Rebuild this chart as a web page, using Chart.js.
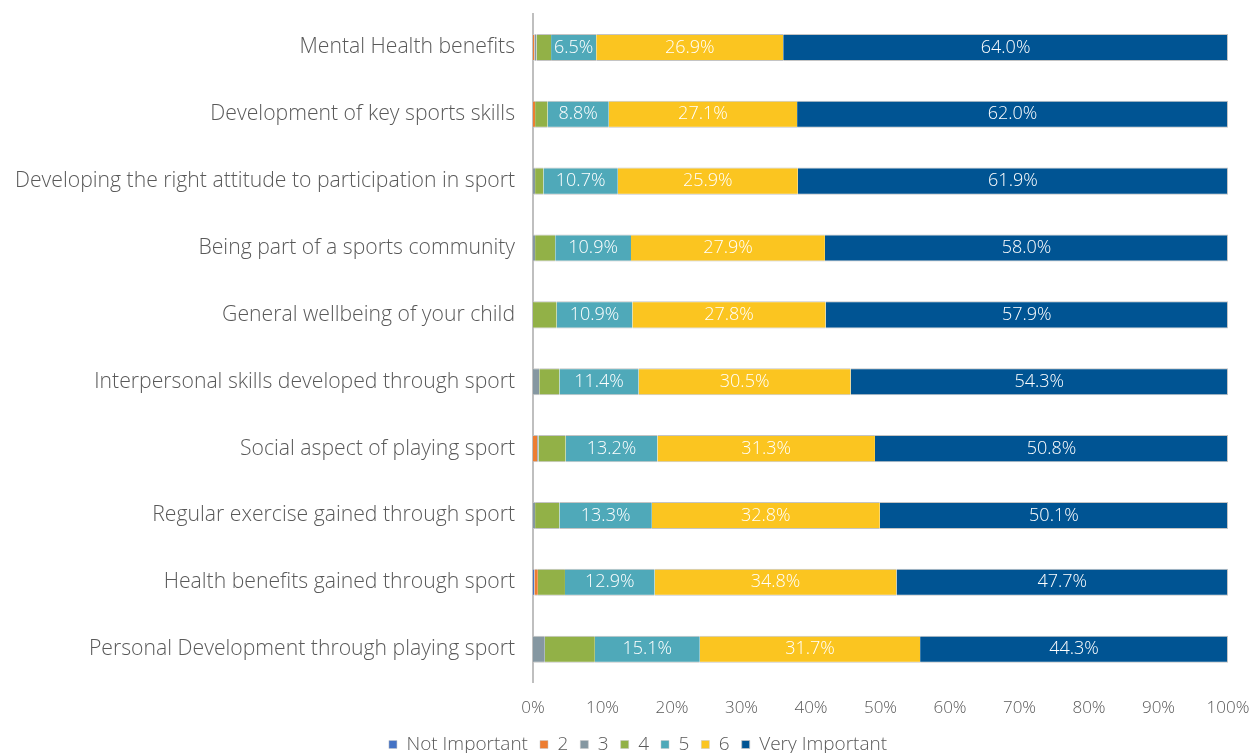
<!DOCTYPE html>
<html>
<head>
<meta charset="utf-8">
<title>Importance of sport outcomes</title>
<script src="https://cdn.jsdelivr.net/npm/chart.js@4.4.1/dist/chart.umd.min.js"></script>
<style>
  html, body { margin: 0; padding: 0; background: #fff; }
  #wrap { width: 1252px; height: 753px; }
</style>
</head>
<body>
<div id="wrap"><canvas id="chart"></canvas></div>
<script>
// Categories, top to bottom
const categories = [
    'Mental Health benefits',
    'Development of key sports skills',
    'Developing the right attitude to participation in sport',
    'Being part of a sports community',
    'General wellbeing of your child',
    'Interpersonal skills developed through sport',
    'Social aspect of playing sport',
    'Regular exercise gained through sport',
    'Health benefits gained through sport',
    'Personal Development through playing sport'
];

// Share of answers (%) per rating
const notImportant = [0,   0,   0,   0,   0,   0,   0,   0,   0.2, 0];
const rating2      = [0.2, 0.3, 0,   0,   0,   0,   0.6, 0,   0.5, 0];
const rating3      = [0.3, 0,   0.3, 0.3, 0,   0.9, 0.2, 0.3, 0,   1.7];
const rating4      = [2.1, 1.8, 1.2, 2.9, 3.4, 2.9, 3.9, 3.5, 3.9, 7.2];
const rating5      = [6.5, 8.8, 10.7, 10.9, 10.9, 11.4, 13.2, 13.3, 12.9, 15.1];
const rating6      = [26.9, 27.1, 25.9, 27.9, 27.8, 30.5, 31.3, 32.8, 34.8, 31.7];
const veryImportant = [64.0, 62.0, 61.9, 58.0, 57.9, 54.3, 50.8, 50.1, 47.7, 44.3];

const seriesNames = ['Not Important', '2', '3', '4', '5', '6', 'Very Important'];
const seriesColors = ['#4472C4', '#ED7D31', '#8597A1', '#92B147', '#4FA9B9', '#FBC520', '#005493'];
const seriesValues = [notImportant, rating2, rating3, rating4, rating5, rating6, veryImportant];
// only these series carry value labels in the bars
const labelledSeries = [4, 5, 6];

const textColor = '#595959';
const fontFamily = "'Open Sans', sans-serif";

// Draw the percentage labels in the middle of each segment
const segmentLabels = {
    id: 'segmentLabels',
    afterDatasetsDraw(chart) {
        const ctx = chart.ctx;
        ctx.save();
        ctx.fillStyle = '#ffffff';
        ctx.font = '300 18px ' + fontFamily;
        ctx.textAlign = 'center';
        ctx.textBaseline = 'middle';
        labelledSeries.forEach(di => {
            const meta = chart.getDatasetMeta(di);
            meta.data.forEach((bar, i) => {
                const v = chart.data.datasets[di].data[i];
                const x = (bar.x + bar.base) / 2;
                ctx.fillText(v.toFixed(1) + '%', x, bar.y);
            });
        });
        ctx.restore();
    }
};

// Nudge the legend a little to the right, under the bars
const legendShift = {
    id: 'legendShift',
    afterLayout(chart) {
        if (chart.legend) {
            chart.legend.left += 8;
            chart.legend.right += 8;
        }
    }
};

const datasets = seriesNames.map((name, i) => ({
    label: name,
    data: seriesValues[i],
    backgroundColor: seriesColors[i],
    borderColor: '#c4c4c4',
    borderWidth: i === seriesNames.length - 1 ? { top: 1, bottom: 1, right: 1 } : { top: 1, bottom: 1 },
    borderSkipped: false,
    barPercentage: 0.81,
    categoryPercentage: 0.5
}));

new Chart(document.getElementById('chart'), {
    type: 'bar',
    data: { labels: categories, datasets: datasets },
    options: {
        indexAxis: 'y',
        responsive: true,
        maintainAspectRatio: false,
        animation: false,
        layout: { padding: { top: 14, right: 0, left: 8, bottom: -11 } },
        scales: {
            x: {
                stacked: true,
                min: 0,
                max: 100,
                grid: { display: false },
                border: { display: false },
                ticks: {
                    stepSize: 10,
                    color: textColor,
                    font: { size: 17, family: fontFamily, weight: 300 },
                    padding: 7,
                    callback: v => v + '%'
                },
                afterFit(scale) {
                    scale.height -= 2;
                    scale.paddingRight = 24;
                    scale.paddingLeft = 0;
                }
            },
            y: {
                stacked: true,
                grid: { display: false },
                border: { display: true, color: '#bfbfbf', width: 2 },
                ticks: {
                    color: textColor,
                    font: { size: 21.2, family: fontFamily, weight: 300 },
                    padding: 10
                },
                afterFit(scale) {
                    scale.width = 525;
                    scale.paddingTop = 0;
                    scale.paddingBottom = 0;
                }
            }
        },
        plugins: {
            legend: {
                position: 'bottom',
                labels: {
                    color: textColor,
                    font: { size: 19, family: fontFamily, weight: 300 },
                    boxWidth: 8,
                    boxHeight: 8,
                    padding: 12
                }
            },
            tooltip: { enabled: false }
        }
    },
    plugins: [segmentLabels, legendShift]
});
</script>
</body>
</html>
